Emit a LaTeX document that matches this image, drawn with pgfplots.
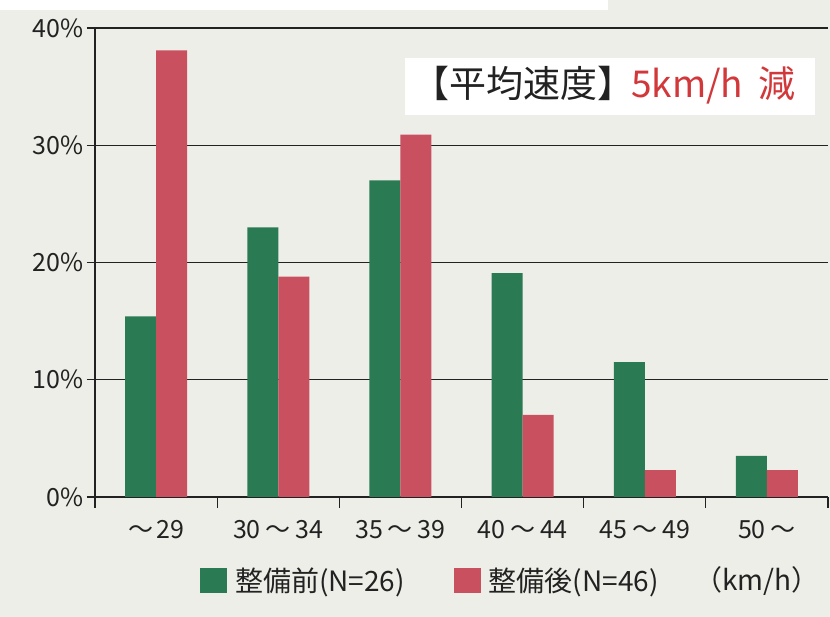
\documentclass[border=0pt]{standalone}
\usepackage{fontspec}
\setmainfont{Noto Sans CJK JP}
\usepackage{pgfplots}
\pgfplotsset{compat=1.18}
\definecolor{bggray}{HTML}{EEEEE9}
\definecolor{barg}{HTML}{2A7B53}
\definecolor{barr}{HTML}{C9505F}
\definecolor{titred}{HTML}{D2383A}
\definecolor{ink}{HTML}{222222}
\newcommand{\til}{\hspace{5pt}～\hspace{5pt}}
\begin{document}
\begin{tikzpicture}[x=1pt,y=1pt]
\useasboundingbox (0,0) rectangle (830,617);
\fill[bggray] (0,0) rectangle (830,617);
\fill[white] (0,607) rectangle (608,617);
\begin{axis}[
  at={(95pt,120pt)}, anchor=south west,
  scale only axis, width=733pt, height=469pt,
  xmin=0, xmax=6, ymin=0, ymax=40,
  axis lines*=left,
  axis line style={ink, line width=1.4pt},
  ybar=0pt, bar width=31pt,
  ytick={0,10,20,30,40},
  yticklabel={\pgfmathprintnumber{\tick}\%},
  /pgf/number format/assume math mode=true,
  ymajorgrids, grid style={ink, line width=1.3pt},
  xtick={0.5,1.5,2.5,3.5,4.5,5.5},
  xticklabels={～\hspace{3pt}29, 30\til 34, 35\til 39, 40\til 44, 45\til 49, 50\hspace{5pt}～},
  minor xtick={0,1,2,3,4,5,6},
  major x tick style={draw=none},
  minor x tick style={draw=ink, line width=1.3pt},
  major y tick style={draw=ink, line width=1.3pt},
  tick align=outside,
  major tick length=8pt, minor tick length=11pt,
  tick label style={font=\fontsize{25}{30}\selectfont, text=ink},
  xticklabel style={yshift=-12pt},
  legend style={at={(axis description cs:0.1432,-0.178)}, anchor=west,
    draw=none, fill=none, inner sep=0pt, legend columns=2,
    font=\fontsize{28}{32}\selectfont, text=ink,
    nodes={inner sep=0pt},
    /tikz/every odd column/.append style={column sep=8pt},
    /tikz/every even column/.append style={column sep=49pt}},
]
\addplot[fill=barg, draw=none, legend image code/.code={\fill[barg] (0pt,-12.5pt) rectangle (27pt,12.5pt);}]
  coordinates {(0.5,15.4) (1.5,23.0) (2.5,27.0) (3.5,19.1) (4.5,11.5) (5.5,3.5)};
\addlegendentry{整備前(N=26)}
\addplot[fill=barr, draw=none, legend image code/.code={\fill[barr] (0pt,-12.5pt) rectangle (27pt,12.5pt);}]
  coordinates {(0.5,38.1) (1.5,18.8) (2.5,30.9) (3.5,7.0) (4.5,2.3) (5.5,2.3)};
\addlegendentry{整備後(N=46)}
\end{axis}
\fill[white] (405,502) rectangle (815,559);
\node[anchor=base west, inner sep=0pt, font=\fontsize{37}{40}\selectfont, text=ink] at (412,519) {【平均速度】};
\node[anchor=base west, inner sep=0pt, font=\fontsize{37}{40}\selectfont, text=titred] at (631,519) {5km/h};
\node[anchor=base west, inner sep=0pt, font=\fontsize{37}{40}\selectfont, text=titred] at (758,519) {減};
\node[anchor=west, inner sep=0pt, font=\fontsize{28}{32}\selectfont, text=ink] at (694,36) {（km/h）};
\end{tikzpicture}
\end{document}
